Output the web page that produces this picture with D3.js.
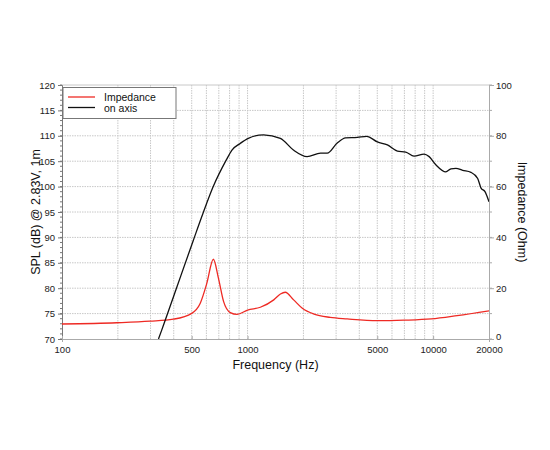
<!DOCTYPE html>
<html>
<head>
<meta charset="utf-8">
<script src="https://cdn.jsdelivr.net/npm/d3@7"></script>
<style>
body { margin: 0; background: #fff; font-family: "Liberation Sans", Arial, sans-serif; }
svg text { font-family: "Liberation Sans", Arial, sans-serif; }
</style>
</head>
<body>
<script>
// on axis SPL (dB)
var splFreq = [331, 345, 412, 511, 576, 653, 767, 824, 913, 1009, 1221, 1502, 1766, 2094, 2472, 2687, 3043, 3375, 3903, 4383, 5006, 5669, 6421, 7118, 7889, 8937, 9516, 10342, 11710, 12463, 13265, 14420, 15990, 17380, 18120, 19030, 20000];
var splDb = [70, 71.8, 79.8, 89.5, 94.8, 100.0, 105.2, 107.2, 108.5, 109.5, 110.2, 109.5, 107.2, 105.9, 106.6, 106.6, 108.6, 109.6, 109.7, 109.9, 108.8, 108.2, 107.0, 106.8, 106.0, 106.4, 105.9, 104.3, 102.9, 103.5, 103.6, 103.2, 102.8, 101.6, 99.7, 99.0, 97.0];

// impedance (Ohm)
var impFreq = [100, 197, 298, 398, 500, 556, 603, 654, 697, 743, 807, 878, 1000, 1172, 1384, 1503, 1596, 1771, 1973, 2281, 2787, 3442, 5006, 6985, 9770, 13470, 20000];
var impOhm = [5.9, 6.4, 7.0, 7.8, 10.1, 14.1, 21.9, 31.4, 23.9, 14.7, 10.4, 9.7, 11.4, 12.5, 15.4, 17.7, 18.4, 15.4, 12.1, 9.8, 8.5, 7.9, 7.2, 7.4, 7.9, 9.2, 11.1];

var xTicks = [100, 500, 1000, 5000, 10000, 20000];
var xGrid = [200, 300, 400, 500, 600, 700, 800, 900, 1000, 2000, 3000, 4000, 5000, 6000, 7000, 8000, 9000, 10000];
var splTicks = [70, 75, 80, 85, 90, 95, 100, 105, 110, 115, 120];
var impTicks = [0, 20, 40, 60, 80, 100];

var width = 550, height = 450;
var pLeft = 62, pRight = 489, pTop = 85, pBottom = 339;

var svg = d3.select("body").append("svg")
  .attr("width", width)
  .attr("height", height);

var x = d3.scaleLog().domain([100, 20000]).range([pLeft, pRight]);
var ySpl = d3.scaleLinear().domain([70, 120]).range([pBottom, pTop]);
var yImp = d3.scaleLinear().domain([0, 100]).range([pBottom, pTop]);

// grid
var grid = svg.append("g");
grid.selectAll(".vg").data(xGrid).enter().append("line")
  .attr("x1", d => x(d)).attr("x2", d => x(d))
  .attr("y1", pTop).attr("y2", pBottom)
  .attr("stroke", "#c8c8c8").attr("stroke-width", 1)
  .attr("stroke-dasharray", "1.5,1");
grid.selectAll(".hg").data(splTicks.slice(1, -1)).enter().append("line")
  .attr("x1", pLeft).attr("x2", pRight)
  .attr("y1", d => ySpl(d)).attr("y2", d => ySpl(d))
  .attr("stroke", "#c8c8c8").attr("stroke-width", 1)
  .attr("stroke-dasharray", "1.5,1");
grid.append("line")
  .attr("x1", pLeft).attr("x2", pRight).attr("y1", pTop).attr("y2", pTop)
  .attr("stroke", "#c8c8c8");

// left axis
var yl = svg.append("g").attr("transform", "translate(" + pLeft + ",0)")
  .call(d3.axisLeft(ySpl).tickValues(splTicks).tickSize(4).tickPadding(3).tickFormat(d3.format("d")));
yl.append("g").selectAll("line").data(d3.range(70, 121)).enter().append("line")
  .attr("x1", -2).attr("x2", 0)
  .attr("y1", d => ySpl(d)).attr("y2", d => ySpl(d))
  .attr("stroke", "#777");
yl.select(".domain").attr("stroke", "#777");
yl.selectAll(".tick line").attr("stroke", "#777");
yl.selectAll("text").attr("font-size", 9.5).attr("fill", "#222");

// right axis
var yr = svg.append("g").attr("transform", "translate(" + pRight + ",0)")
  .call(d3.axisRight(yImp).tickValues(impTicks).tickSize(5).tickPadding(2));
yr.append("g").selectAll("line").data(d3.range(0, 101, 10)).enter().append("line")
  .attr("x1", 0).attr("x2", 3)
  .attr("y1", d => yImp(d)).attr("y2", d => yImp(d))
  .attr("stroke", "#aaa");
yr.select(".domain").attr("stroke", "#aaa");
yr.selectAll(".tick line").attr("stroke", "#aaa");
yr.selectAll("text").attr("font-size", 9.5).attr("fill", "#222");
// the 0 label sits a little higher, clear of 20000
yr.selectAll(".tick").filter(d => d === 0).select("text").attr("dy", "0.1em");

// bottom axis
var xa = svg.append("g").attr("transform", "translate(0," + pBottom + ")")
  .call(d3.axisBottom(x).tickValues(xTicks).tickSize(3).tickPadding(4).tickFormat(d3.format("d")));
xa.select(".domain").attr("stroke", "#aaa");
xa.selectAll(".tick line").attr("stroke", "#aaa").attr("y1", -3).attr("y2", 0);
xa.selectAll("text").attr("font-size", 9.5).attr("fill", "#222");

// curves
svg.append("clipPath").attr("id", "plot").append("rect")
  .attr("x", pLeft).attr("y", pTop).attr("width", pRight - pLeft).attr("height", pBottom - pTop);

var splLine = d3.line().x((d, i) => x(splFreq[i])).y(d => ySpl(d)).curve(d3.curveMonotoneX);
var impLine = d3.line().x((d, i) => x(impFreq[i])).y(d => yImp(d)).curve(d3.curveMonotoneX);

svg.append("path").datum(impOhm)
  .attr("d", impLine).attr("fill", "none")
  .attr("stroke", "#ee2a24").attr("stroke-width", 1.3)
  .attr("clip-path", "url(#plot)");
svg.append("path").datum(splDb)
  .attr("d", splLine).attr("fill", "none")
  .attr("stroke", "#111").attr("stroke-width", 1.3)
  .attr("clip-path", "url(#plot)");

// legend
var lg = svg.append("g");
lg.append("rect").attr("x", 63).attr("y", 87.5).attr("width", 113).attr("height", 31)
  .attr("fill", "#fff").attr("stroke", "#777");
var legItems = [["Impedance", "#ee2a24"], ["on axis", "#111"]];
legItems.forEach(function(it, i) {
  lg.append("line").attr("x1", 68).attr("x2", 95)
    .attr("y1", 97 + i * 10.5).attr("y2", 97 + i * 10.5)
    .attr("stroke", it[1]).attr("stroke-width", 1.3);
  lg.append("text").attr("x", 104).attr("y", 101 + i * 10.5)
    .attr("font-size", 10.5).attr("fill", "#111").text(it[0]);
});

// titles
svg.append("text").attr("x", (pLeft + pRight) / 2).attr("y", 369)
  .attr("text-anchor", "middle").attr("font-size", 12.5).attr("fill", "#111")
  .text("Frequency (Hz)");
svg.append("text").attr("transform", "translate(40," + (pTop + pBottom) / 2 + ") rotate(-90)")
  .attr("text-anchor", "middle").attr("font-size", 12.5).attr("fill", "#111")
  .text("SPL (dB) @ 2.83V, 1m");
svg.append("text").attr("transform", "translate(518," + (pTop + pBottom) / 2 + ") rotate(90)")
  .attr("text-anchor", "middle").attr("font-size", 12.5).attr("fill", "#111")
  .text("Impedance (Ohm)");
</script>
</body>
</html>
